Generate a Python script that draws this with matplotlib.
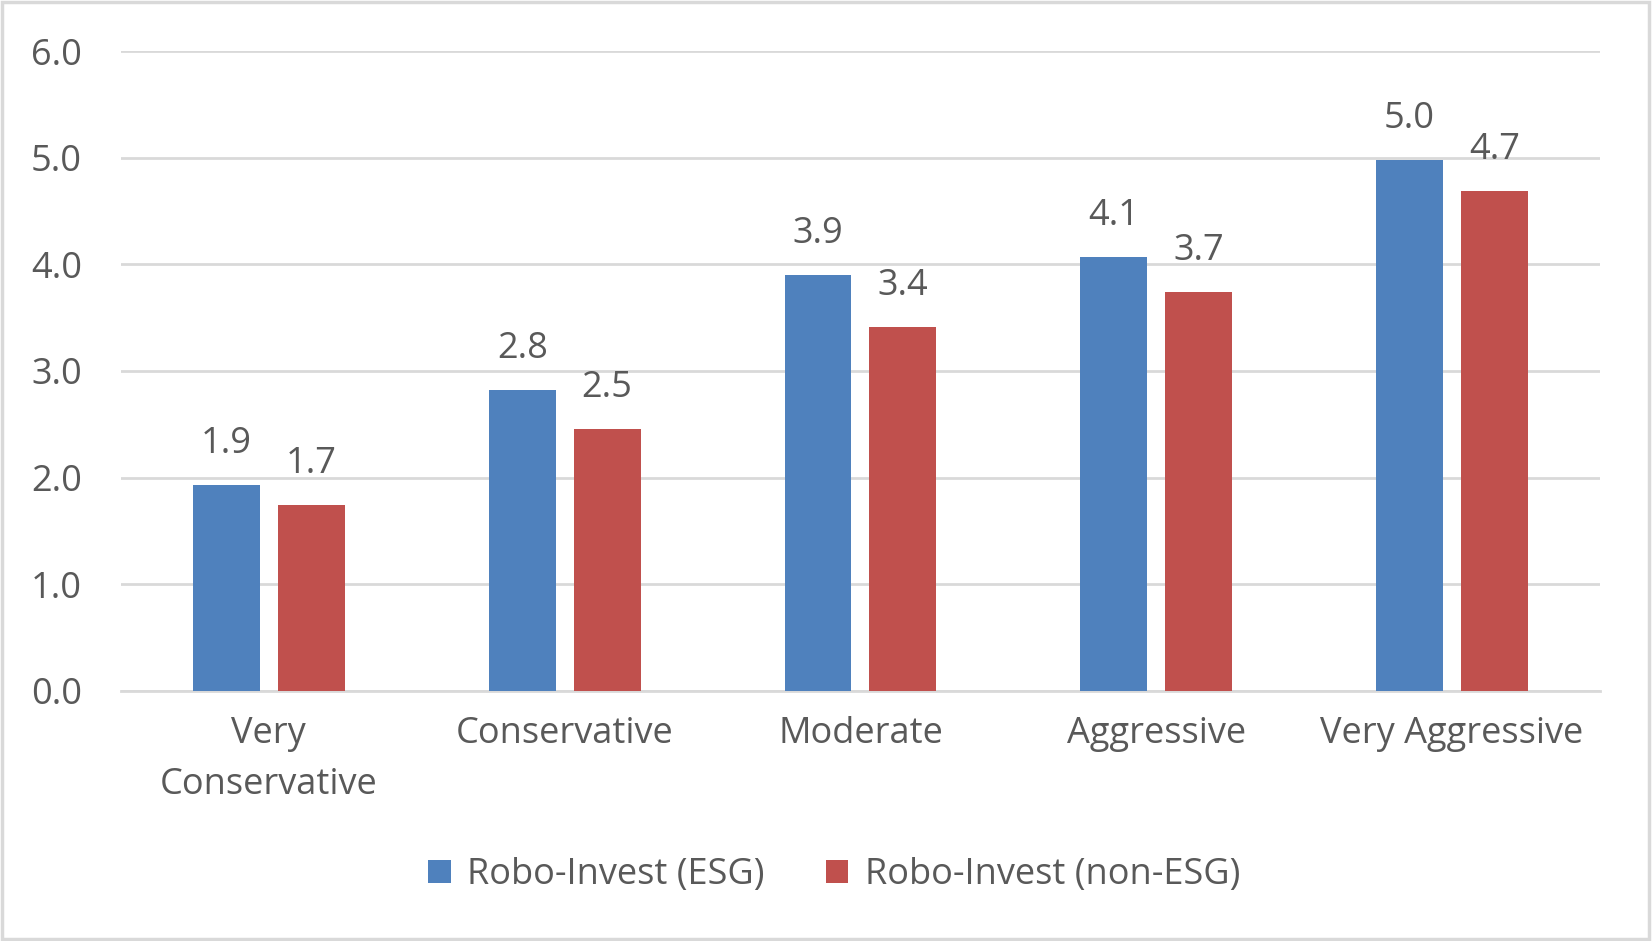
import matplotlib.pyplot as plt
import numpy as np
from matplotlib.patches import Rectangle

# data
categories = ["Very\nConservative", "Conservative", "Moderate", "Aggressive", "Very Aggressive"]
esg = [1.93, 2.82, 3.90, 4.07, 4.98]
non_esg = [1.74, 2.46, 3.41, 3.74, 4.69]
series_names = ["Robo-Invest (ESG)", "Robo-Invest (non-ESG)"]
yticks = [0.0, 1.0, 2.0, 3.0, 4.0, 5.0, 6.0]

BLUE = "#4f81bd"
RED = "#c0504d"
GREY_TXT = "#595959"
GRID = "#d9d9d9"
FS = 26

plt.rcParams['font.family'] = ['Open Sans', 'DejaVu Sans']

fig = plt.figure(figsize=(16.52, 9.41), dpi=100)
ax = fig.add_axes([0.0732, 0.2657, 0.8953, 0.6801])

x = np.arange(len(categories))
width = 0.226
off = 0.1435
b1 = ax.bar(x - off, esg, width, color=BLUE, label=series_names[0], zorder=3)
b2 = ax.bar(x + off, non_esg, width, color=RED, label=series_names[1], zorder=3)

for bars, vals in [(b1, esg), (b2, non_esg)]:
    for rect, v in zip(bars, vals):
        ax.annotate(f"{v:.1f}", (rect.get_x() + rect.get_width() / 2, v),
                    xytext=(0, 23), textcoords="offset points",
                    ha="center", va="baseline", fontsize=FS, color=GREY_TXT)

ax.set_xlim(-0.5, len(categories) - 0.5)
ax.set_ylim(0, 6)
ax.set_yticks(yticks)
ax.set_yticklabels([f"{t:.1f}" for t in yticks])
ax.set_xticks(x)
ax.set_xticklabels(categories, linespacing=1.55)

ax.grid(axis="y", color=GRID, linewidth=2, zorder=0)
for s in ["top", "right", "left"]:
    ax.spines[s].set_visible(False)
ax.spines["bottom"].set_color(GRID)
ax.spines["bottom"].set_linewidth(2)
ax.tick_params(axis="both", length=0, labelsize=FS, labelcolor=GREY_TXT)
ax.tick_params(axis="y", pad=28)
ax.tick_params(axis="x", pad=18)

fig.legend(loc="center", bbox_to_anchor=(0.505, 0.07), ncol=2, frameon=False,
           fontsize=FS, labelcolor=GREY_TXT, handlelength=0.62, handleheight=0.62,
           handletextpad=0.45, columnspacing=1.7)

# light grey outer border
fig.patches.append(Rectangle((0.001, 0.002), 0.997, 0.996, transform=fig.transFigure,
                             fill=False, edgecolor=GRID, linewidth=2.5))

fig.savefig("out.png", dpi=100, facecolor="white")
